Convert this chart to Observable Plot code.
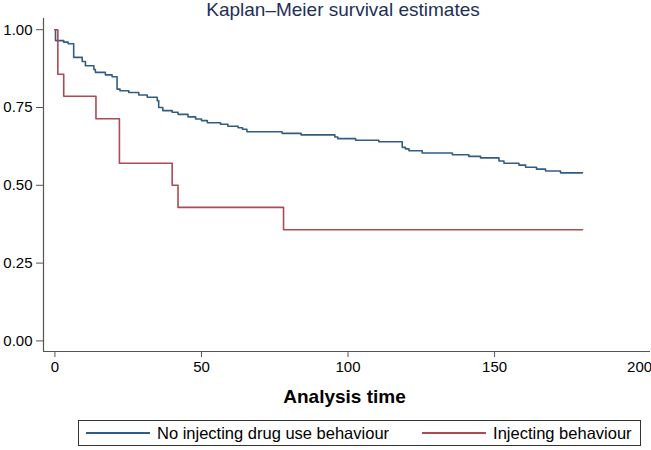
<!DOCTYPE html>
<html>
<head>
<meta charset="utf-8">
<script src="https://cdn.jsdelivr.net/npm/d3@7"></script>
<script src="https://cdn.jsdelivr.net/npm/@observablehq/plot@0.6"></script>
<style>
  body { margin: 0; background: #fff; font-family: "Liberation Sans", Arial, sans-serif; }
  #wrap { position: relative; width: 651px; height: 450px; overflow: hidden; background: #fff; }
  #title { position: absolute; left: 35px; width: 616px; top: -1px; text-align: center; font-size: 19px; line-height: 22px; color: #1e2f58; white-space: nowrap; }
  #xlabel { position: absolute; left: 38px; width: 613px; top: 387px; text-align: center; font-size: 19px; line-height: 19px; font-weight: bold; color: #000; white-space: nowrap; }
  #legend { position: absolute; left: 78px; top: 420px; width: 561px; height: 24px; border: 1.5px solid #333; display: flex; align-items: center; font-size: 16.5px; color: #000; }
  .sw { display: inline-block; width: 64px; height: 0; border-top: 2px solid; margin-right: 7px; }
  #plot { position: absolute; left: 0; top: 0; }
</style>
</head>
<body>
<div id="wrap">
  <div id="plot"></div>
  <div id="title">Kaplan–Meier survival estimates</div>
  <div id="xlabel">Analysis time</div>
  <div id="legend"></div>
</div>
<script>
// Series names and colours
const seriesNames = ["No injecting drug use behaviour", "Injecting behaviour"];
const seriesColors = ["#325d83", "#ad4a53"];

// Kaplan–Meier step points (time, survival) for "No injecting drug use behaviour"
const blueTime = [0, 0.2, 3, 4.5, 6.4, 9.3, 10.4, 13.3, 13.8, 17.2, 19.5, 21.2, 22.2, 25.2, 28.6, 31.5, 34.9, 35.4, 36.8, 40, 42, 45.4, 48, 50, 52, 56.5, 59, 62.5, 64, 65.5, 77.5, 84, 95.5, 96.5, 102.6, 110.5, 118.5, 119.6, 120.8, 125.3, 135.6, 141.2, 145.2, 151.5, 153.2, 158.3, 160.6, 164.3, 167.4, 172.5, 180];
const blueSurv = [1.0, 0.965, 0.960, 0.955, 0.911, 0.898, 0.884, 0.872, 0.863, 0.855, 0.849, 0.809, 0.804, 0.798, 0.790, 0.783, 0.772, 0.750, 0.740, 0.735, 0.728, 0.720, 0.713, 0.708, 0.701, 0.696, 0.690, 0.685, 0.680, 0.672, 0.667, 0.662, 0.655, 0.650, 0.645, 0.640, 0.622, 0.617, 0.611, 0.604, 0.598, 0.593, 0.588, 0.578, 0.571, 0.565, 0.558, 0.552, 0.546, 0.540, 0.540];

// Kaplan–Meier step points for "Injecting behaviour"
const redTime = [0, 1, 3, 14, 22, 40, 42, 78, 180];
const redSurv = [1.0, 0.857, 0.786, 0.714, 0.571, 0.500, 0.429, 0.357, 0.357];

// Axis ticks
const xTicks = [0, 50, 100, 150, 200];
const yTicks = [0, 0.25, 0.5, 0.75, 1];

const blueRows = blueTime.map((t, i) => ({t, s: blueSurv[i], g: seriesNames[0]}));
const redRows = redTime.map((t, i) => ({t, s: redSurv[i], g: seriesNames[1]}));

const xDomain = [-3.9, 203.2];
const yDomain = [-0.034, 1.036];
const lastTick = xTicks[xTicks.length - 1];

const chart = Plot.plot({
  width: 651,
  height: 450,
  marginTop: 18,
  marginBottom: 99,
  marginLeft: 43,
  marginRight: 1,
  style: { background: "transparent", fontFamily: "Liberation Sans, Arial, sans-serif", overflow: "visible" },
  x: { domain: xDomain },
  y: { domain: yDomain },
  color: { domain: seriesNames, range: seriesColors },
  marks: [
    Plot.ruleX([xDomain[0]], { stroke: "#555", strokeWidth: 1.2 }),
    Plot.ruleY([yDomain[0]], { stroke: "#555", strokeWidth: 1.2 }),
    Plot.axisY({ ticks: yTicks, tickFormat: d3.format(".2f"), tickSize: 7, tickPadding: 4, fontSize: 15, label: null, stroke: "#555", color: "#000" }),
    Plot.axisX({ ticks: xTicks.slice(0, -1), tickFormat: d3.format("d"), tickSize: 6, tickPadding: 4, fontSize: 15, label: null, stroke: "#555", color: "#000" }),
    Plot.axisX({ ticks: [lastTick], tickFormat: d3.format("d"), tickSize: 6, tickPadding: 4, fontSize: 15, label: null, stroke: "#555", color: "#000", textAnchor: "end", dx: 11 }),
    Plot.line(blueRows, { x: "t", y: "s", stroke: "g", curve: "step-after", strokeWidth: 1.6 }),
    Plot.line(redRows, { x: "t", y: "s", stroke: "g", curve: "step-after", strokeWidth: 1.6 })
  ]
});
document.getElementById("plot").appendChild(chart);

const leg = document.getElementById("legend");
seriesNames.forEach((name, i) => {
  const item = document.createElement("span");
  item.style.display = "inline-flex";
  item.style.alignItems = "center";
  item.style.marginLeft = i === 0 ? "7px" : "33px";
  const sw = document.createElement("span");
  sw.className = "sw";
  sw.style.borderTopColor = seriesColors[i];
  item.appendChild(sw);
  item.appendChild(document.createTextNode(name));
  leg.appendChild(item);
});
</script>
</body>
</html>
